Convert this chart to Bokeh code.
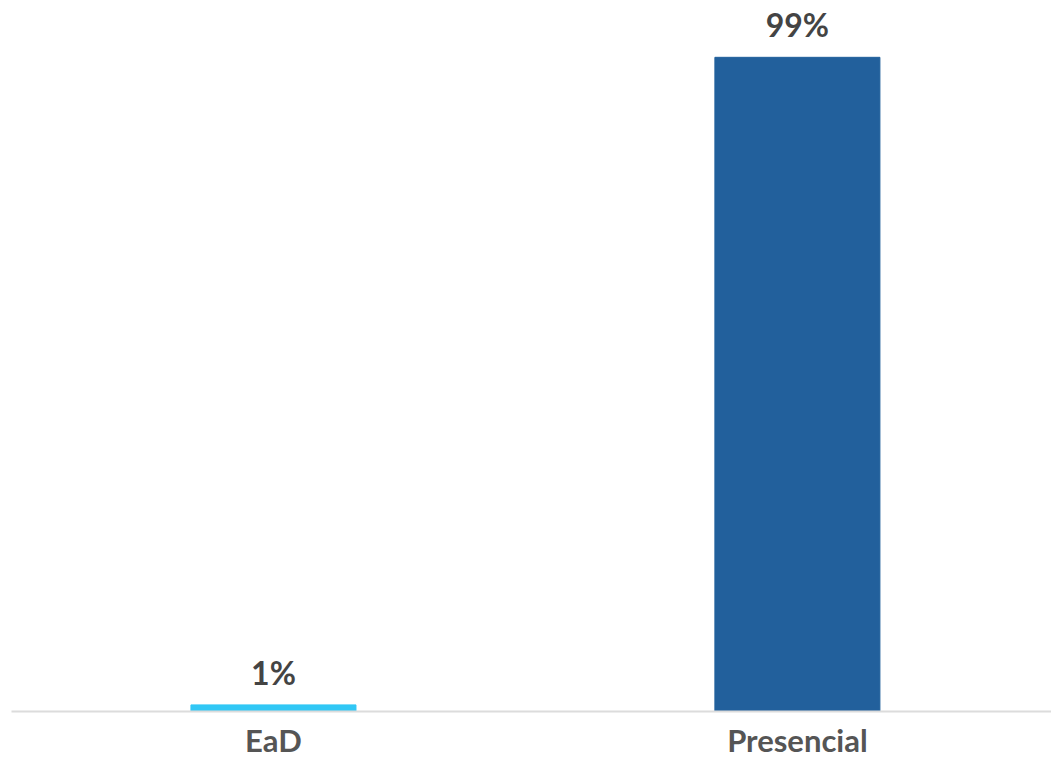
from bokeh.plotting import figure
from bokeh.models import Range1d, FixedTicker, ColumnDataSource
from bokeh.core.properties import value
from bokeh.embed import file_html
from bokeh.resources import INLINE

categories = ["EaD", "Presencial"]
values = [1, 99]
labels = ["1%", "99%"]
colors = ["#31C7F5", "#22609C"]

xs = list(range(len(categories)))
src = ColumnDataSource(dict(x=xs, top=values, label=labels, color=colors))

p = figure(width=1051, height=761, output_backend="svg", toolbar_location=None,
           x_range=Range1d(-0.5, 1.485), y_range=Range1d(0, 107.6),
           min_border_left=11, min_border_right=0, min_border_top=0, min_border_bottom=0)
p.vbar(x="x", top="top", width=0.315, color="color", source=src)
p.text(x="x", y="top", text="label", source=src, text_align="center", text_baseline="bottom",
       y_offset=-13, text_font=value("Lato"), text_font_style="bold",
       text_font_size="32px", text_color="#444444")

p.xaxis.ticker = FixedTicker(ticks=xs)
p.xaxis.major_label_overrides = {i: c for i, c in enumerate(categories)}
p.xaxis.major_label_text_font = "Lato"
p.xaxis.major_label_text_font_style = "bold"
p.xaxis.major_label_text_font_size = "31px"
p.xaxis.major_label_text_color = "#555555"
p.xaxis.major_label_standoff = 9
p.xaxis.major_tick_out = 0
p.xaxis.major_tick_in = 0
p.xaxis.major_tick_line_color = None
p.xaxis.minor_tick_line_color = None
p.xaxis.axis_line_color = "#dcdcdc"
p.xaxis.axis_line_width = 2
p.yaxis.visible = False
p.xgrid.visible = False
p.ygrid.visible = False
p.outline_line_color = None

open("out.html", "w").write(file_html(p, INLINE))
